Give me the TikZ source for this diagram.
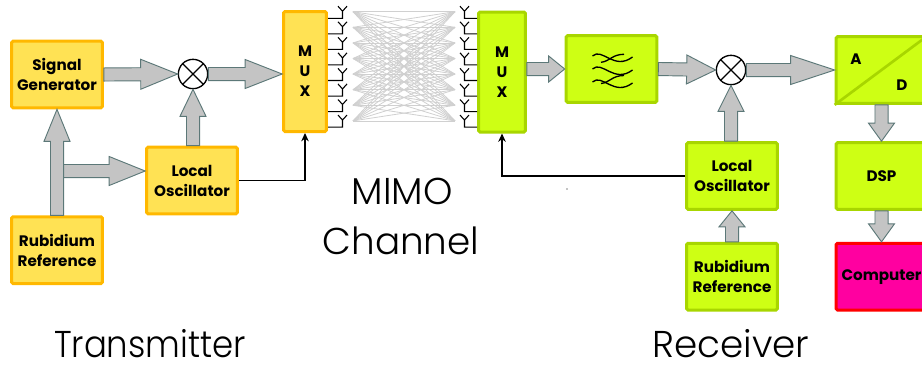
\documentclass[tikz,border=0pt]{standalone}
\usepackage{fontspec}
\setmainfont{Poppins}
\newfontfamily\titlefont{Poppins Light}
\usepackage{tikz}
\usetikzlibrary{arrows.meta,positioning,calc}
\definecolor{txfill}{RGB}{255,226,84}
\definecolor{txedge}{RGB}{255,184,0}
\definecolor{rxfill}{RGB}{206,255,20}
\definecolor{rxedge}{RGB}{168,214,0}
\definecolor{pcfill}{RGB}{255,0,160}
\definecolor{pcedge}{RGB}{255,0,0}
\definecolor{fatfill}{RGB}{196,196,196}
\definecolor{fatedge}{RGB}{92,120,120}
\definecolor{chanline}{RGB}{208,208,208}

\begin{document}
\begin{tikzpicture}[
  x=0.75pt, y=-0.75pt,
  box/.style={rectangle, rounded corners=1pt, line width=2.25pt, minimum width=68pt, minimum height=50pt, align=center, inner sep=0pt, font=\fontsize{11.4}{15}\selectfont\bfseries},
  txbox/.style={box, draw=txedge, fill=txfill},
  rxbox/.style={box, draw=rxedge, fill=rxfill},
  pcbox/.style={box, draw=pcedge, fill=pcfill},
  muxbox/.style={minimum width=32pt, minimum height=90pt},
  mixer/.style={circle, draw, line width=1pt, fill=white, minimum size=22pt, inner sep=0pt, path picture={
    \draw[line width=1pt] (path picture bounding box.north west) -- (path picture bounding box.south east);
    \draw[line width=1pt] (path picture bounding box.south west) -- (path picture bounding box.north east);}},
  fatarr/.style n args={2}{draw=fatedge, fill=fatfill, line width=0.7pt, to path={
    ($(\tikztostart)!4.9pt!90:(\tikztotarget)$)
    -- ($(\tikztotarget)!#1*0.75pt!(\tikztostart)!4.9pt!90:(\tikztotarget)$)
    -- ($(\tikztotarget)!#1*0.75pt!(\tikztostart)!#2*0.75pt!90:(\tikztotarget)$)
    -- (\tikztotarget)
    -- ($(\tikztotarget)!#1*0.75pt!(\tikztostart)!#2*0.75pt!-90:(\tikztotarget)$)
    -- ($(\tikztotarget)!#1*0.75pt!(\tikztostart)!4.9pt!-90:(\tikztotarget)$)
    -- ($(\tikztostart)!4.9pt!-90:(\tikztotarget)$) -- cycle}},
  arr/.style={-{Stealth[length=2.2mm, width=2mm]}, line width=0.8pt},
  ant/.style={line width=0.8pt},
  title/.style={inner sep=0pt, font=\titlefont\fontsize{28}{28}\selectfont}
]
\clip (0,0) rectangle (922,365);

% Transmitter
\node[txbox] (siggen) at (57,74.5) {Signal\\Generator};
\node[txbox, below=79.5pt of siggen] (rubt) {Rubidium\\Reference};
\node[txbox] (lot) at (192,180.5) {Local\\Oscillator};
\node[mixer] (mixt) at (193,74) {};
\node[txbox, muxbox] (muxt) at (305,71.5) {M\\U\\X};

% Receiver
\node[rxbox, muxbox, minimum width=35pt] (muxr) at (502,72) {M\\U\\X};
\node[rxbox] (filt) at (611.5,69) {};
\node[mixer] (mixr) at (731,70) {};
\node[rxbox] (lor) at (732,176) {Local\\Oscillator};
\node[rxbox, below=23.25pt of lor] (rubr) {Rubidium\\Reference};
\node[rxbox] (adc) at (881.5,70) {};
\node[rxbox] (dsp) at (881.5,176) {DSP};
\node[pcbox, below=23.25pt of dsp] (comp) {Computer};
\draw[line width=2pt, rxedge] (adc.south west) -- (adc.north east);
\node[font=\fontsize{11.4}{15}\selectfont\bfseries] (adca) at (856,59) {A};
\node[font=\fontsize{11.4}{15}\selectfont\bfseries] (adcd) at (902,85) {D};

% Filter symbol
\foreach \y in {56,69,82}{
  \draw[line width=1pt] (592.5,\y) .. controls (602,\y-9) and (614,\y+15) .. (632.5,\y+1);
}
\foreach \y in {62.3,83.5}{
  \draw[line width=1pt] (601,\y) .. controls (610,\y-1) and (612,\y-8) .. (624,\y-8);
}

% Antennas and channel
\foreach \i in {0,...,7}{
  \coordinate (ctx\i) at (353,11.7+15.6*\i);
  \coordinate (crx\i) at (455,11.7+15.6*\i);
  \coordinate (stx\i) at (328,18.3+15.55*\i);
  \coordinate (srx\i) at (477,18.3+15.55*\i);
  \coordinate (ftx\i) at (342.5,11.2+15.55*\i);
  \coordinate (frx\i) at (464.5,11.2+15.55*\i);
}
\foreach \i in {0,...,7}{
  \foreach \j in {0,...,7}{
    \draw[chanline, line width=0.6pt] (ctx\i) -- (crx\j);
  }
}
\foreach \i in {0,...,7}{
  \draw[ant] (stx\i) -| (ftx\i) -- ++(-4.5,-5) (ftx\i) -- ++(4.5,-5);
  \draw[ant] (srx\i) -| (frx\i) -- ++(-4.5,-5) (frx\i) -- ++(4.5,-5);
}

% Fat arrows
\coordinate (tap) at (57,171);
\coordinate (lotin) at (lot.west |- tap);
\draw[fatarr={36}{14.5}] (tap) to (lotin);
\draw[fatarr={32}{13}] (rubt.north) to (siggen.south);
\draw[fatarr={37}{15}] (siggen.east) to (mixt.west);
\draw[fatarr={27}{13}] (lot.north -| mixt) to (mixt.south);
\draw[fatarr={37}{14.5}] (mixt.east) to (muxt.west |- mixt);
\coordinate (muxout) at (muxr.east |- filt);
\draw[fatarr={16}{13}] (muxout) to (filt.west);
\draw[fatarr={29}{14.5}] (filt.east) to (mixr.west);
\draw[fatarr={26}{13}] (lor.north -| mixr) to (mixr.south);
\draw[fatarr={44}{14.5}] (mixr.east) to (adc.west);
\draw[fatarr={16}{13}] (rubr.north) to (lor.south);
\draw[fatarr={18}{13}] (adc.south) to (dsp.north);
\draw[fatarr={18}{13}] (dsp.south) to (comp.north);

% Local oscillator lines
\draw[arr] (lot.east) -| (muxt.south);
\draw[arr] (lor.west) -| (muxr.south);

% Section labels
\node[title] (mimo) at (402,191) {MIMO};
\node[title] (chan) at (401,241) {Channel};
\node[title, xscale=0.91] (txlabel) at (150,344) {Transmitter};
\node[title] (rxlabel) at (731,344) {Receiver};
\fill (567,189) circle (0.4pt);
\end{tikzpicture}
\end{document}
